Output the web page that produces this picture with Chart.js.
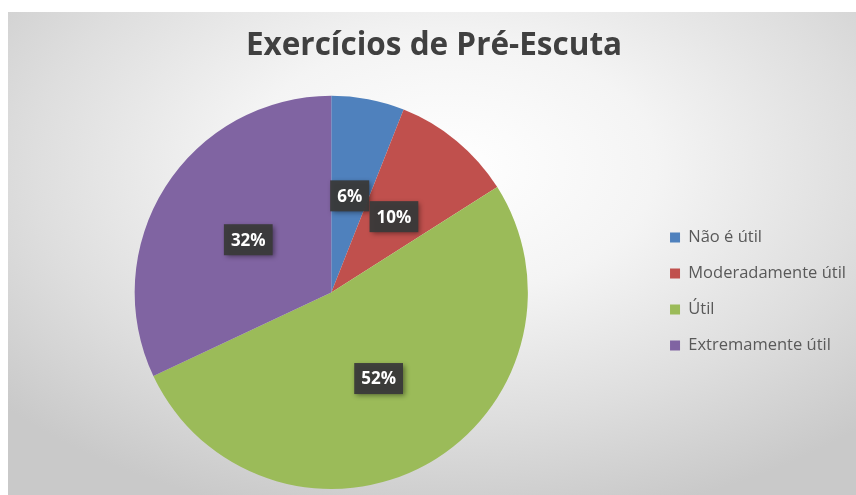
<!DOCTYPE html>
<html>
<head>
  <meta charset="utf-8">
  <title>Exercícios de Pré-Escuta</title>
  <script src="https://cdn.jsdelivr.net/npm/chart.js"></script>
  <style>
    html, body { margin: 0; padding: 0; background: #ffffff; }
    #wrap {
      position: absolute; left: 8px; top: 12px; width: 848px; height: 483px;
      background: radial-gradient(ellipse 70% 75% at 52% 32%, #ffffff 0%, #f4f4f4 35%, #dedede 70%, #c9c9c9 100%);
    }
  </style>
</head>
<body>
  <div id="wrap"><canvas id="pieChart" width="848" height="483"></canvas></div>

  <script>
    const categories = ['Não é útil', 'Moderadamente útil', 'Útil', 'Extremamente útil'];
    const percentages = [6, 10, 52, 32];
    const sliceColors = ['#4F81BD', '#C0504D', '#9BBB59', '#8064A2'];

    // dark boxed percentage labels in the middle of each slice
    const boxLabels = {
      id: 'boxLabels',
      afterDatasetsDraw(chart) {
        const ctx = chart.ctx;
        const meta = chart.getDatasetMeta(0);
        ctx.save();
        ctx.font = 'bold 17px "Open Sans"';
        ctx.textAlign = 'center';
        ctx.textBaseline = 'middle';
        meta.data.forEach((arc, i) => {
          const p = arc.getCenterPoint();
          const txt = percentages[i] + '%';
          const w = ctx.measureText(txt).width + 14;
          const h = 31;
          ctx.shadowColor = 'rgba(0,0,0,0.45)';
          ctx.shadowBlur = 5;
          ctx.shadowOffsetX = 2;
          ctx.shadowOffsetY = 2;
          ctx.fillStyle = 'rgba(58,58,58,0.95)';
          ctx.fillRect(p.x - w / 2, p.y - h / 2, w, h);
          ctx.shadowColor = 'transparent';
          ctx.fillStyle = '#ffffff';
          ctx.fillText(txt, p.x, p.y + 1);
        });
        ctx.restore();
      }
    };

    new Chart(document.getElementById('pieChart').getContext('2d'), {
      type: 'pie',
      data: {
        labels: categories,
        datasets: [{
          data: percentages,
          backgroundColor: sliceColors,
          borderWidth: 0
        }]
      },
      options: {
        responsive: false,
        animation: false,
        layout: { padding: { left: 4, bottom: 6 } },
        plugins: {
          title: {
            display: true,
            text: 'Exercícios de Pré-Escuta',
            color: '#404040',
            font: { family: 'Open Sans', size: 31.5, weight: 'bold' },
            padding: { top: 15, bottom: 31 }
          },
          legend: {
            position: 'right',
            maxWidth: 208,
            // blank title only pushes the items down to the pie's middle
            title: { display: true, text: ' ', font: { size: 10 }, padding: { top: 70, bottom: 0 } },
            labels: {
              color: '#595959',
              font: { family: 'Open Sans', size: 16.5 },
              boxWidth: 10,
              boxHeight: 10,
              padding: 19.5
            }
          },
          tooltip: { enabled: false }
        }
      },
      plugins: [boxLabels]
    });
  </script>
</body>
</html>
